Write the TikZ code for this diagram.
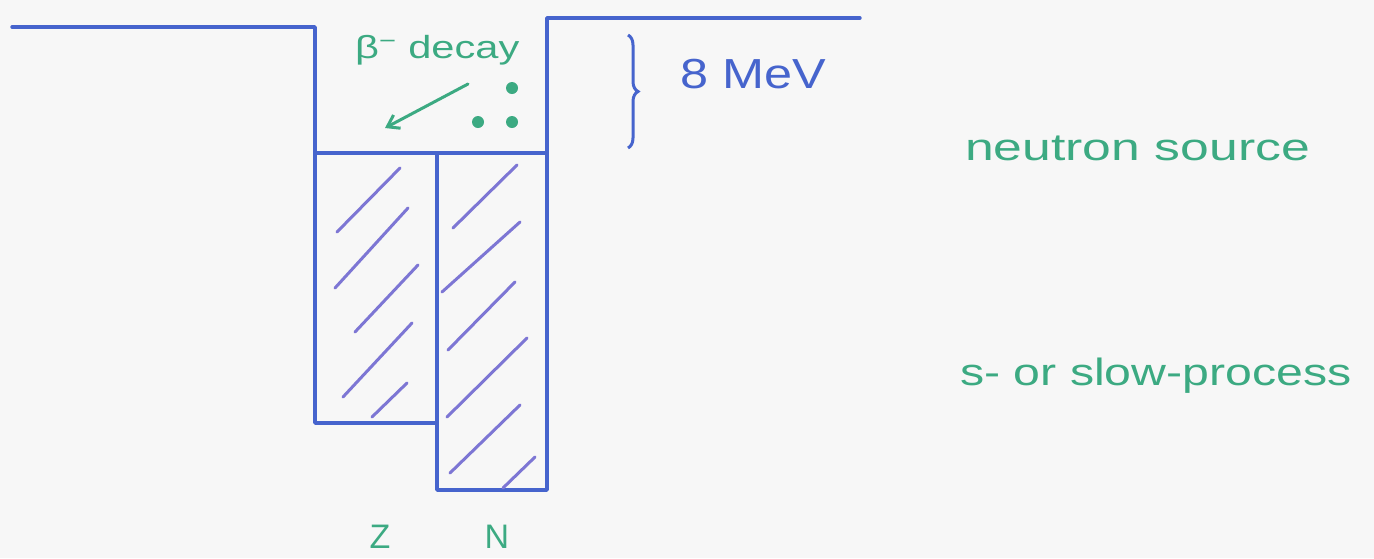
\documentclass[tikz,border=0pt]{standalone}
\usepackage{fontspec}
\setmainfont{Liberation Sans}
\usetikzlibrary{arrows.meta,decorations.pathreplacing}
\definecolor{wellblue}{RGB}{70,100,205}
\definecolor{hatchblue}{RGB}{125,118,212}
\definecolor{pengreen}{RGB}{60,170,130}
\tikzset{
  well/.style={draw=wellblue,line width=3.4pt,line join=round,line cap=round},
  hatch/.style={draw=hatchblue,line width=3pt,line cap=round},
  greentext/.style={text=pengreen,inner sep=0pt,anchor=base west},
  bluetext/.style={text=wellblue,inner sep=0pt,anchor=base west},
}
\begin{document}
\begin{tikzpicture}[x=1pt,y=-1pt]
\useasboundingbox[fill=white!97!black] (0,0) rectangle (1374,558);
% potential well outline
\draw[well] (12,27) -- (315,27) -- (315,423) -- (437,423);
\draw[well] (315,153) -- (547,153);
\draw[well] (437,153) -- (437,490) -- (547,490) -- (547,18) -- (860,18);
% hatching Z column
\draw[hatch] (337,232) -- (400,168);
\draw[hatch] (335,288) -- (408,208);
\draw[hatch] (355,332) -- (418,265);
\draw[hatch] (343,397) -- (412,323);
\draw[hatch] (372,417) -- (407,383);
% hatching N column
\draw[hatch] (453,228) -- (517,165);
\draw[hatch] (442,292) -- (520,222);
\draw[hatch] (448,350) -- (515,282);
\draw[hatch] (447,417) -- (527,338);
\draw[hatch] (450,473) -- (520,405);
\draw[hatch] (503,488) -- (535,457);
% beta decay label, arrow and dots
\node[greentext,font=\fontsize{32}{32}\selectfont] (beta) at (355,58) {\scalebox{1.3}[1]{β\textsuperscript{−} decay}};
\coordinate (arrowstart) at (468,84);
\coordinate (arrowend) at (385,128);
\draw[draw=pengreen,line width=3pt,line cap=round,-{Straight Barb[length=11pt,width=15pt]}] (arrowstart) -- (arrowend);
\fill[pengreen] (512,88) circle (6pt);
\fill[pengreen] (478,122) circle (6pt);
\fill[pengreen] (512,122) circle (6pt);
% 8 MeV brace
\coordinate (bracetop) at (628,35);
\coordinate (bracebot) at (628,148);
\draw[draw=wellblue,line width=3pt,decorate,decoration={brace,amplitude=10pt}] (bracetop) -- (bracebot);
\node[bluetext,font=\fontsize{42}{42}\selectfont] (mev) at (680,88) {\scalebox{1.2}[1]{8 MeV}};
% right annotations
\node[greentext,font=\fontsize{38}{38}\selectfont] (neutron) at (965,160) {\scalebox{1.36}[1]{neutron source}};
\node[greentext,font=\fontsize{38}{38}\selectfont] (sproc) at (960,385) {\scalebox{1.27}[1]{s- or slow-process}};
% axis labels
\node[greentext,font=\fontsize{34}{34}\selectfont,anchor=base] (Z) at (380,548) {Z};
\node[greentext,font=\fontsize{34}{34}\selectfont,anchor=base] (N) at (497,548) {N};
\end{tikzpicture}
\end{document}
